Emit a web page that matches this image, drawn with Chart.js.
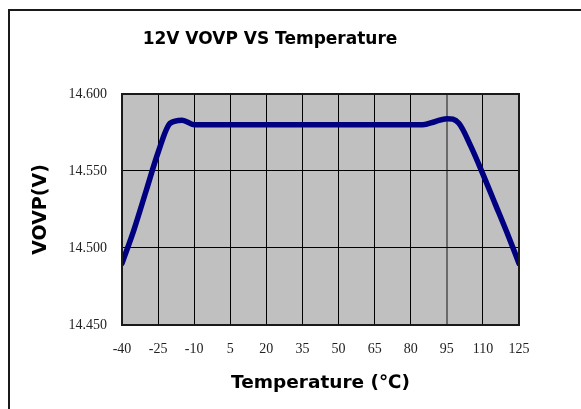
<!DOCTYPE html>
<html>
<head>
<meta charset="utf-8">
<script src="https://cdn.jsdelivr.net/npm/chart.js@4"></script>
<style>
  body { margin: 0; background: #fff; }
  #frame { position: absolute; left: 8px; top: 9px; width: 580px; height: 410px;
           border-top: 2px solid #1a1a1a; border-left: 2px solid #1a1a1a; }
  #wrap { position: absolute; left: 0; top: 0; width: 540px; height: 409px; }
</style>
</head>
<body>
<div id="frame"></div>
<div id="wrap"><canvas id="ovpChart" width="540" height="409"></canvas></div>
<script>
const temperatures = [-40, -35, -30, -25, -20, -15, -10, 0, 20, 40, 60, 80, 85, 90, 95, 100, 105, 110, 115, 120, 125];
const vovp = [14.490, 14.512, 14.537, 14.562, 14.581, 14.583, 14.580, 14.580, 14.580, 14.580, 14.580, 14.580, 14.580, 14.582, 14.584, 14.581, 14.566, 14.548, 14.529, 14.510, 14.490];
const xMin = -40, xMax = 125, xStep = 15;
const yMin = 14.45, yMax = 14.6, yStep = 0.05;

const plotFrame = {
    id: 'plotFrame',
    beforeDraw(chart) {
        const {ctx, chartArea: a} = chart;
        ctx.save();
        ctx.fillStyle = '#c0c0c0';
        ctx.fillRect(a.left, a.top, a.right - a.left, a.bottom - a.top);
        ctx.restore();
    },
    afterDatasetsDraw(chart) {
        const {ctx, chartArea: a} = chart;
        ctx.save();
        ctx.strokeStyle = '#1a1a1a';
        ctx.lineWidth = 2;
        ctx.strokeRect(a.left, a.top, a.right - a.left, a.bottom - a.top);
        ctx.restore();
    }
};

const ctx = document.getElementById('ovpChart').getContext('2d');
new Chart(ctx, {
    type: 'line',
    data: {
        datasets: [{
            data: temperatures.map((t, i) => ({x: t, y: vovp[i]})),
            borderColor: '#000080',
            borderWidth: 5.5,
            pointRadius: 0,
            fill: false,
            cubicInterpolationMode: 'monotone',
            borderCapStyle: 'round',
            borderJoinStyle: 'round'
        }]
    },
    options: {
        responsive: false,
        animation: false,
        layout: { padding: 0 },
        plugins: {
            legend: { display: false },
            tooltip: { enabled: false },
            title: {
                display: true,
                text: '12V VOVP VS Temperature',
                color: '#000',
                font: { family: 'DejaVu Sans', size: 17, weight: 'bold' },
                padding: { top: 29.8, bottom: 43.8 }
            }
        },
        scales: {
            x: {
                type: 'linear',
                min: xMin,
                max: xMax,
                afterFit: s => { s.height = 84; s.paddingLeft = 0; s.paddingRight = 0; },
                ticks: {
                    stepSize: xStep,
                    color: '#222',
                    padding: 16,
                    font: { family: 'Liberation Serif', size: 14 }
                },
                grid: {
                    drawTicks: false,
                    color: c => c.tick && c.tick.value === 95 ? '#6a6a6a' : '#000',
                    lineWidth: c => c.tick && c.tick.value === 95 ? 2 : 1
                },
                border: { display: false },
                title: {
                    display: true,
                    text: 'Temperature (℃)',
                    color: '#000',
                    font: { family: 'DejaVu Sans', size: 18.5, weight: 'bold' },
                    padding: { top: 0, bottom: 15 }
                }
            },
            y: {
                min: yMin,
                max: yMax,
                afterFit: s => { s.width = 122; s.paddingTop = 0; s.paddingBottom = 0; },
                ticks: {
                    stepSize: yStep,
                    color: '#222',
                    padding: 15,
                    font: { family: 'Liberation Serif', size: 14 },
                    callback: v => v.toFixed(3)
                },
                grid: { drawTicks: false, color: '#000', lineWidth: 1 },
                border: { display: false },
                title: {
                    display: true,
                    text: 'VOVP(V)',
                    color: '#000',
                    font: { family: 'DejaVu Sans', size: 19, weight: 'bold' },
                    padding: { top: 29.6, bottom: 0 }
                }
            },
            // empty right-hand strip so the plot ends where the reference's does
            spacer: {
                type: 'linear',
                position: 'right',
                afterFit: s => { s.width = 21; },
                ticks: { display: false },
                grid: { display: false },
                border: { display: false }
            }
        }
    },
    plugins: [plotFrame]
});
</script>
</body>
</html>
